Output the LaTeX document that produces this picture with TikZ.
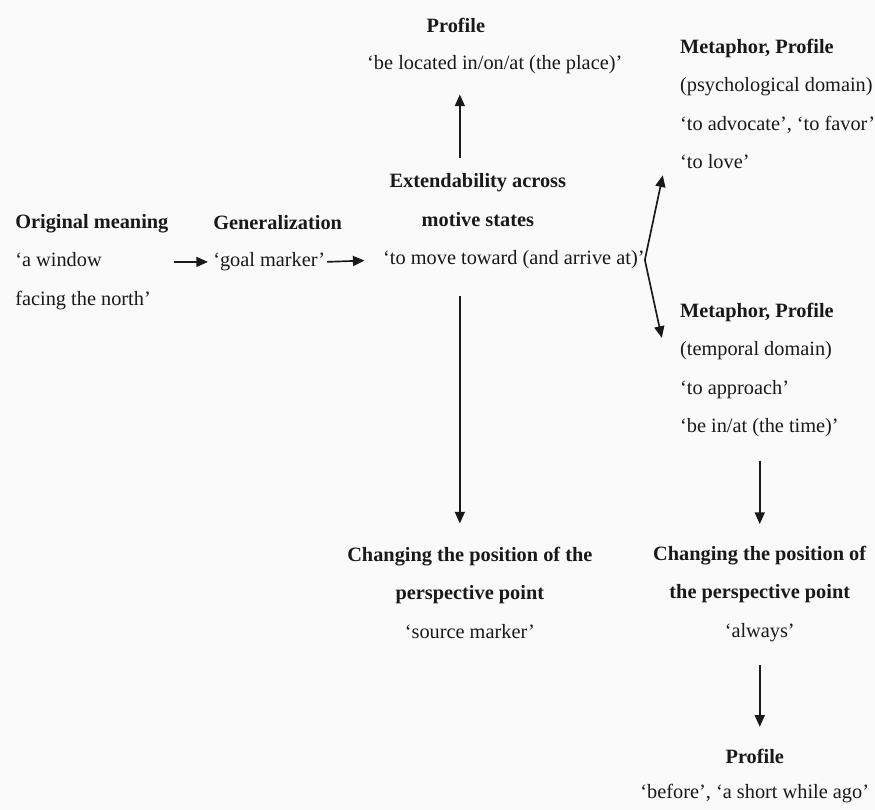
\documentclass[tikz,border=0pt]{standalone}
\usepackage{fontspec}
\setmainfont{Liberation Serif}
\usetikzlibrary{arrows.meta,calc}
\definecolor{bgpaper}{RGB}{250,250,250}
\definecolor{inkgray}{RGB}{25,25,25}

\begin{document}
\begin{tikzpicture}[x=0.6pt, y=-0.6pt,
	txt/.style={inner sep=0pt, text=inkgray, font=\fontsize{12.2}{23.1}\selectfont},
	head/.style={txt, font=\fontsize{12.2}{23.1}\selectfont\bfseries},
	arr/.style={-{Triangle[length=7pt, width=6pt]}, line width=1pt, draw=inkgray}
	]
	
	\fill[bgpaper] (0,0) rectangle (875,810);
	\coordinate (spine) at (460,0);
	
	% left part of the chain
	\node[txt, align=left, anchor=west] (orig) at (15,262) {\textbf{Original meaning}\\‘a window\\facing the north’};
	\node[head, anchor=west] (genhd) at (213,223) {Generalization};
	\node[txt, anchor=west] (goal) at (213,262) {‘goal marker’};
	
	\node[head, align=center] (exthd) at (478,200) {Extendability across\\motive states};
	\node[txt, anchor=west] (extgl) at (383,260) {‘to move toward (and arrive at)’};
	
	\node[head] (profhd) at (456,25) {Profile};
	\node[txt, anchor=west] (profgl) at (367,65) {‘be located in/on/at (the place)’};
	
	% metaphor branches
	\node[txt, align=left, anchor=west] (psych) at (680,104) {\textbf{Metaphor, Profile}\\(psychological domain)\\‘to advocate’, ‘to favor’\\‘to love’};
	\node[txt, align=left, anchor=west] (temp) at (680,370) {\textbf{Metaphor, Profile}\\(temporal domain)\\‘to approach’\\‘be in/at (the time)’};
	
	% perspective point
	\node[txt, align=center] (chg1) at (470,593) {\textbf{Changing the position of the}\\\textbf{perspective point}\\‘source marker’};
	\node[txt, align=center] (chg2) at (760,594) {\textbf{Changing the position of}\\\textbf{the perspective point}\\‘always’};
	\node[txt, align=center] (prof2) at (755,776) {\textbf{Profile}\\[-2pt]‘before’, ‘a short while ago’};
	
	\draw[arr, shorten <=3pt, shorten >=3pt] (orig.east) -- (goal.west);
	\draw[arr, shorten <=1pt, shorten >=11pt] (goal.east) -- (extgl.west);
	\draw[arr, shorten <=9pt, shorten >=12pt] (exthd.north -| spine) -- (profgl.south -| spine);
	\draw[arr, shorten <=16pt, shorten >=14pt] (extgl.south -| spine) -- (chg1.north -| spine);
	\draw[arr] (extgl.east) -- ($(psych.south west)+(-17,6)$);
	\draw[arr] (extgl.east) -- ($(temp.west)+(-18,-32)$);
	\draw[arr, shorten <=14pt, shorten >=13pt] (temp.south -| chg2.north) -- (chg2.north);
	\draw[arr, shorten <=14pt, shorten >=13pt] (chg2.south) -- (chg2.south |- prof2.north);
\end{tikzpicture}
\end{document}
